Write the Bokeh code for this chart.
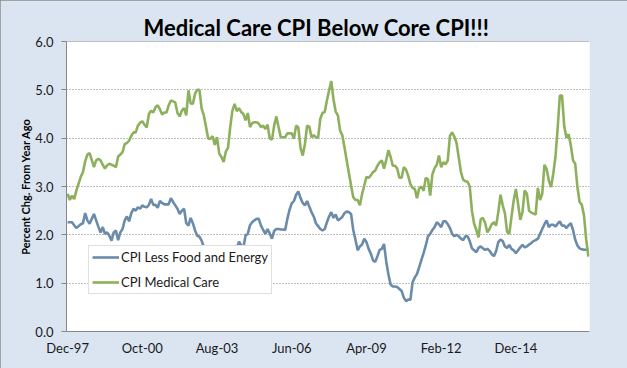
import pandas as pd
from bokeh.plotting import figure
from bokeh.models import (ColumnDataSource, Range1d, FixedTicker, NumeralTickFormatter,
                          Title, Span, Legend, LegendItem)
from bokeh.embed import file_html
from bokeh.resources import INLINE

# ---------------- data (monthly, Dec-97 .. Sep-17) ----------------
months = list(pd.date_range("1997-12-01", periods=238, freq="MS").strftime("%b-%y"))

core_cpi = [
    2.26, 2.26, 2.26, 2.20, 2.14, 2.18, 2.22, 2.24, 2.45, 2.30,
    2.23, 2.33, 2.43, 2.30, 2.17, 2.05, 2.16, 2.02, 2.05, 1.98,
    1.88, 2.05, 2.09, 1.89, 2.05, 2.12, 2.30, 2.38, 2.28, 2.45,
    2.54, 2.50, 2.57, 2.54, 2.61, 2.58, 2.57, 2.62, 2.74, 2.62,
    2.62, 2.56, 2.70, 2.66, 2.63, 2.63, 2.63, 2.76, 2.68, 2.61,
    2.54, 2.43, 2.50, 2.54, 2.24, 2.19, 2.35, 2.24, 2.09, 1.98,
    1.96, 1.88, 1.74, 1.70, 1.52, 1.58, 1.50, 1.50, 1.30, 1.22,
    1.30, 1.12, 1.10, 1.12, 1.20, 1.60, 1.78, 1.72, 1.86, 1.78,
    1.74, 1.99, 2.02, 2.20, 2.26, 2.30, 2.33, 2.33, 2.19, 2.10,
    2.02, 2.12, 2.03, 1.92, 2.08, 2.12, 2.12, 2.11, 2.11, 2.10,
    2.33, 2.52, 2.65, 2.70, 2.83, 2.90, 2.76, 2.66, 2.61, 2.70,
    2.58, 2.47, 2.38, 2.24, 2.18, 2.12, 2.09, 2.12, 2.26, 2.38,
    2.47, 2.35, 2.42, 2.30, 2.33, 2.37, 2.45, 2.48, 2.47, 2.43,
    2.10, 1.90, 1.68, 1.76, 1.80, 1.92, 1.85, 1.71, 1.61, 1.47,
    1.44, 1.56, 1.69, 1.71, 1.81, 1.45, 1.18, 0.97, 0.93, 0.93,
    0.92, 0.88, 0.84, 0.70, 0.63, 0.66, 0.66, 1.02, 1.12, 1.19,
    1.33, 1.48, 1.62, 1.78, 1.97, 2.02, 2.10, 2.16, 2.26, 2.22,
    2.16, 2.28, 2.28, 2.22, 2.14, 2.02, 1.97, 2.00, 1.97, 1.92,
    1.89, 1.97, 1.97, 1.87, 1.72, 1.68, 1.64, 1.73, 1.76, 1.72,
    1.69, 1.71, 1.67, 1.60, 1.56, 1.66, 1.85, 1.90, 1.87, 1.76,
    1.73, 1.79, 1.71, 1.68, 1.62, 1.68, 1.74, 1.79, 1.74, 1.76,
    1.80, 1.83, 1.87, 1.89, 1.92, 2.02, 2.12, 2.22, 2.30, 2.16,
    2.21, 2.21, 2.17, 2.23, 2.28, 2.19, 2.19, 2.14, 2.20, 2.24,
    2.10, 1.90, 1.78, 1.72, 1.70, 1.69, 1.69, 1.69,
]

medical_cpi = [
    2.85, 2.72, 2.81, 2.74, 2.92, 3.06, 3.20, 3.30, 3.52, 3.66,
    3.69, 3.55, 3.40, 3.54, 3.57, 3.54, 3.45, 3.37, 3.44, 3.47,
    3.45, 3.43, 3.40, 3.62, 3.66, 3.71, 3.88, 3.90, 3.95, 4.05,
    4.12, 4.12, 4.26, 4.32, 4.35, 4.28, 4.22, 4.50, 4.57, 4.53,
    4.64, 4.68, 4.60, 4.49, 4.53, 4.53, 4.68, 4.78, 4.76, 4.74,
    4.52, 4.45, 4.57, 4.62, 4.47, 4.99, 4.72, 4.71, 4.92, 5.00,
    5.00, 4.61, 4.47, 4.23, 3.99, 3.99, 4.04, 3.86, 4.02, 3.68,
    3.61, 3.51, 3.72, 3.80, 4.23, 4.57, 4.71, 4.56, 4.62, 4.54,
    4.50, 4.37, 4.52, 4.23, 4.31, 4.33, 4.33, 4.30, 4.23, 4.26,
    4.19, 4.28, 3.99, 3.97, 4.26, 4.45, 4.23, 4.02, 4.02, 4.02,
    4.10, 4.10, 4.10, 3.99, 4.26, 4.22, 3.80, 3.64, 3.88, 4.26,
    4.24, 4.02, 4.06, 4.02, 4.01, 4.40, 4.52, 4.54, 4.78, 4.99,
    5.18, 4.80, 4.55, 4.47, 4.16, 4.06, 3.81, 3.54, 3.28, 3.02,
    2.78, 2.72, 2.72, 2.61, 2.84, 3.02, 3.20, 3.18, 3.23, 3.30,
    3.33, 3.43, 3.50, 3.54, 3.37, 3.55, 3.75, 3.61, 3.43, 3.43,
    3.37, 3.18, 3.18, 3.40, 3.35, 3.22, 3.05, 2.97, 2.95, 2.76,
    2.96, 3.00, 2.91, 3.18, 3.15, 2.81, 3.25, 3.38, 3.45, 3.64,
    3.40, 3.50, 3.46, 3.54, 4.05, 4.12, 4.03, 3.90, 3.60, 3.30,
    3.14, 3.11, 3.10, 3.00, 2.50, 2.23, 2.10, 1.95, 2.32, 2.35,
    2.25, 2.05, 2.12, 2.22, 2.26, 2.19, 2.47, 2.83, 2.61, 2.45,
    2.06, 2.02, 2.37, 2.71, 2.95, 2.64, 2.31, 2.47, 2.92, 2.85,
    2.50, 2.46, 2.44, 2.42, 2.97, 2.72, 2.85, 3.45, 3.36, 3.12,
    2.99, 3.26, 3.61, 4.20, 4.88, 4.88, 4.25, 4.01, 4.08, 3.85,
    3.54, 3.47, 2.99, 2.68, 2.62, 2.40, 1.90, 1.55,
]

tick_labels = ["Dec-97", "Oct-00", "Aug-03", "Jun-06", "Apr-09", "Feb-12", "Dec-14"]
y_ticks = [0, 1, 2, 3, 4, 5, 6]

series_names = ["CPI Less Food and Energy", "CPI Medical Care"]
series_colors = ["#6A8BAA", "#8DB05C"]

assert len(core_cpi) == len(months) == len(medical_cpi)

# ---------------- figure ----------------
FONT = "Lato"
TXT = "#1a1a1a"

src = ColumnDataSource(dict(x=list(range(len(months))), month=months,
                            core=core_cpi, med=medical_cpi))

p = figure(width=627, height=368, output_backend="svg", toolbar_location=None,
           x_range=Range1d(-0.5, len(months) - 0.5), y_range=Range1d(0, 6),
           min_border_left=66, min_border_right=38, min_border_top=41, min_border_bottom=37)

p.border_fill_color = "#DBE5F1"
p.background_fill_color = "#FFFFFF"
p.outline_line_color = None
p.styles = {"outline": "1px solid #8c8c8c", "outline-offset": "-1px"}

r1 = p.line("x", "core", source=src, line_color=series_colors[0], line_width=2.6)
r2 = p.line("x", "med", source=src, line_color=series_colors[1], line_width=2.6)

# title
p.add_layout(Title(text="Medical Care CPI Below Core CPI!!!", align="left", offset=77,
                   standoff=2, text_font=FONT, text_font_style="bold",
                   text_font_size="22px", text_color="#000000"), "above")

# x axis
tick_pos = [months.index(t) for t in tick_labels]
p.xaxis.ticker = FixedTicker(ticks=tick_pos)
p.xaxis.major_label_overrides = {pos: lab for pos, lab in zip(tick_pos, tick_labels)}
p.xaxis.major_tick_out = 0
p.xaxis.major_tick_in = 0
p.xaxis.minor_tick_line_color = None
p.xaxis.axis_line_color = "#868686"
p.xaxis.major_label_standoff = 8
p.xaxis.major_label_text_font = FONT
p.xaxis.major_label_text_font_size = "13px"
p.xaxis.major_label_text_color = TXT

# y axis
p.yaxis.ticker = FixedTicker(ticks=y_ticks)
p.yaxis.formatter = NumeralTickFormatter(format="0.0")
p.yaxis.major_tick_out = 5
p.yaxis.major_tick_in = 0
p.yaxis.major_tick_line_color = "#868686"
p.yaxis.minor_tick_line_color = None
p.yaxis.axis_line_color = "#868686"
p.yaxis.major_label_standoff = 8
p.yaxis.major_label_text_font = FONT
p.yaxis.major_label_text_font_size = "13px"
p.yaxis.major_label_text_color = TXT
p.yaxis.axis_label = "Percent Chg. From Year Ago"
p.yaxis.axis_label_text_font = FONT
p.yaxis.axis_label_text_font_style = "bold"
p.yaxis.axis_label_text_font_size = "11px"
p.yaxis.axis_label_text_color = "#000000"
p.yaxis.axis_label_standoff = 0

p.xgrid.grid_line_color = None
p.ygrid.grid_line_color = "#7f7f7f"
p.ygrid.grid_line_dash = "1 2"
p.ygrid.grid_line_width = 1

# top border of plot area
p.add_layout(Span(location=6, dimension="width", line_color="#868686", line_width=1))

legend = Legend(items=[LegendItem(label=series_names[0], renderers=[r1]),
                       LegendItem(label=series_names[1], renderers=[r2])],
                location=(22, 37), orientation="vertical")
legend.margin = 0
legend.padding = 3
legend.spacing = 9
legend.glyph_width = 27
legend.glyph_height = 16
legend.label_height = 16
legend.label_standoff = 2
legend.label_text_font = FONT
legend.label_text_font_size = "13px"
legend.label_text_color = TXT
legend.border_line_color = "#BFBFBF"
legend.background_fill_color = "#FFFFFF"
legend.background_fill_alpha = 1.0
p.add_layout(legend, "center")

open("out.html", "w").write(file_html(p, INLINE))
